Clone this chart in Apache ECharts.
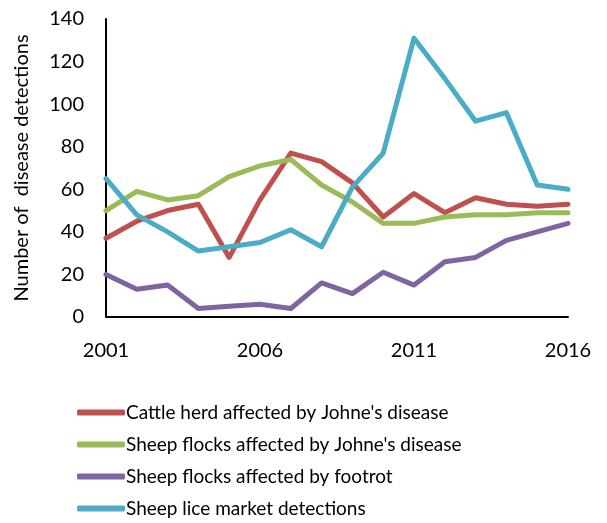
<!DOCTYPE html>
<html><head><meta charset="utf-8">
<script src="https://cdn.jsdelivr.net/npm/echarts@6/dist/echarts.min.js"></script>
<style>html,body{margin:0;padding:0;background:#fff}#c{width:607px;height:523px}</style>
</head><body><div id="c"></div>
<script>
const years = ['2001','2002','2003','2004','2005','2006','2007','2008','2009','2010','2011','2012','2013','2014','2015','2016'];
const cattleJohnes = [37,45,50,53,28,55,77,73,63,47,58,49,56,53,52,53];
const sheepJohnes = [50,59,55,57,66,71,74,62,54,44,44,47,48,48,49,49];
const footrot = [20,13,15,4,5,6,4,16,11,21,15,26,28,36,40,44];
const lice = [65,48,40,31,33,35,41,33,61,77,131,112,92,96,62,60];
const names = ["Cattle herd affected by Johne's disease","Sheep flocks affected by Johne's disease","Sheep flocks affected by footrot","Sheep lice market detections"];
const colors = ['#C0504D','#9BBB59','#8064A2','#4BACC6'];
const font = 'Lato, Open Sans, sans-serif';
const chart = echarts.init(document.getElementById('c'));
const mk = (n, d, c) => ({name:n, type:'line', data:d, symbol:'none', lineStyle:{width:5, color:c, cap:'round', join:'round'}, itemStyle:{color:c}});
chart.setOption({
  animation:false,
  color:colors,
  grid:{left:106, top:19, right:39, bottom:206, containLabel:false},
  legend:{orient:'vertical', left:72, top:398, height:140, itemWidth:48, itemHeight:6, itemGap:13,
    icon:'roundRect',
    textStyle:{fontFamily:font, fontSize:19, color:'#000', padding:[0,0,0,-4]},
    data:names},
  xAxis:{type:'category', data:years, boundaryGap:false,
    axisLine:{lineStyle:{color:'#000', width:2}}, axisTick:{show:false},
    axisLabel:{interval:4, fontFamily:font, fontSize:20, color:'#000', margin:24}},
  yAxis:{type:'value', min:0, max:140, interval:20,
    name:'Number of  disease detections', nameLocation:'middle', nameGap:74, nameRotate:90,
    nameTextStyle:{fontFamily:font, fontSize:20, color:'#000'},
    axisLine:{show:true, lineStyle:{color:'#000', width:2}}, axisTick:{show:false},
    splitLine:{show:false},
    axisLabel:{fontFamily:font, fontSize:20, color:'#000', margin:22}},
  series:[mk(names[0],cattleJohnes,colors[0]), mk(names[1],sheepJohnes,colors[1]), mk(names[2],footrot,colors[2]), mk(names[3],lice,colors[3])]
});
</script></body></html>
